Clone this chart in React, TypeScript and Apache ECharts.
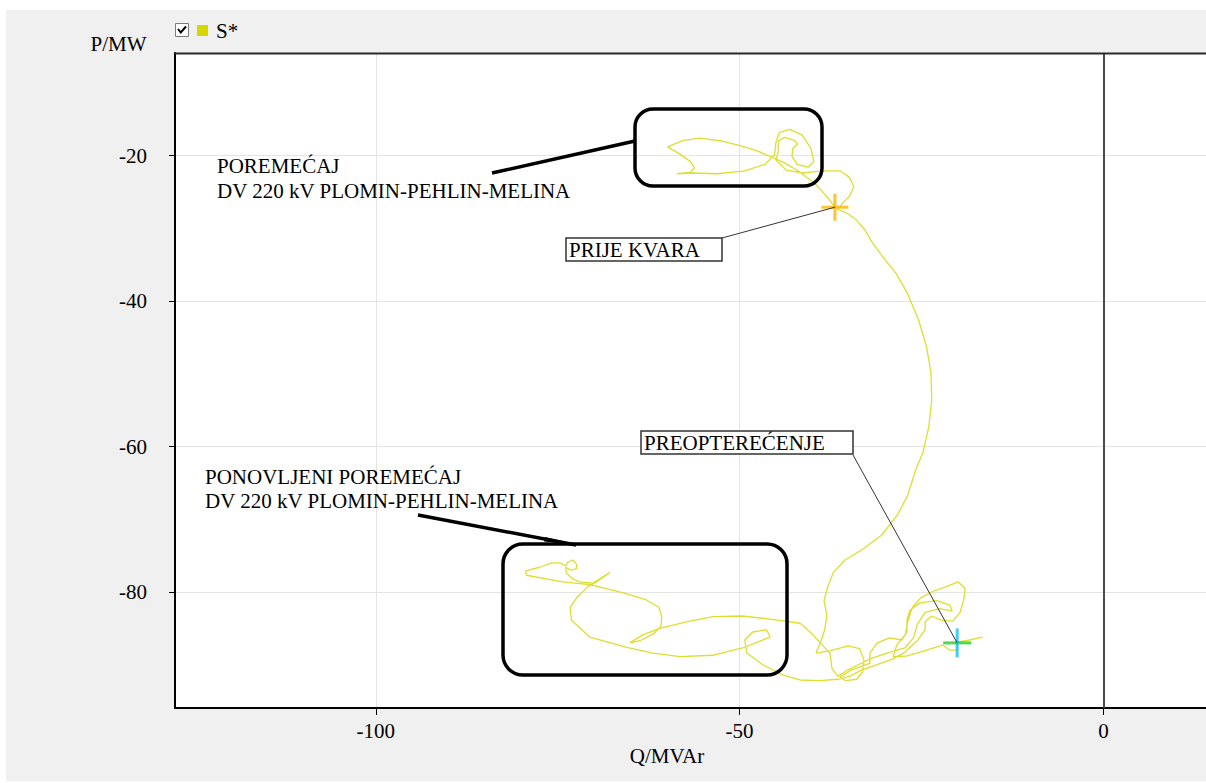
import { useEffect, useRef } from 'react';
import * as echarts from 'echarts';

const FONT = 'Liberation Serif';

// Axis layout values (Q in MVAr, P in MW)
const qTicks = [-100, -50, 0];
const pTicks = [-20, -40, -60, -80];
const qExtent = [-127.6, 14.1];
const pExtent = [-95.95, -5.9];

// Operating points that get a cross marker and a label
const prefaultPoint = [-36.9, -27.1];
const overloadPoint = [-20.1, -87.0];

// Trajectory of S* in the P-Q plane, in time order, split by phase
const swingFirst = [
  [-36.9, -27.1], [-38.2, -25.4], [-39.7, -23.8], [-41.7, -22.3], [-43.8, -21.0], [-45.6, -20.2],
  [-47.5, -19.4], [-49.7, -18.7], [-52.4, -18.0], [-55.5, -17.6], [-57.7, -17.9], [-59.9, -18.8],
  [-58.2, -19.8], [-56.8, -20.8], [-56.2, -21.7], [-56.8, -22.3], [-58.6, -22.5], [-56.6, -22.4],
  [-53.1, -22.5], [-49.3, -22.1], [-46.5, -21.2], [-45.2, -19.9], [-45.0, -18.1], [-44.5, -16.8],
  [-43.1, -16.4], [-41.4, -17.2], [-40.2, -19.0], [-39.8, -20.8], [-40.6, -21.6], [-42.1, -21.2],
  [-42.8, -20.1], [-42.7, -19.0], [-42.0, -18.4], [-42.5, -17.9], [-43.8, -17.5], [-44.7, -18.0],
  [-44.7, -19.5], [-45.0, -20.6], [-43.6, -22.0], [-41.3, -22.4], [-38.7, -22.1], [-36.2, -22.1],
  [-34.9, -23.0], [-34.3, -24.3], [-34.9, -25.6], [-35.8, -26.5], [-36.5, -27.4],
];

const descent = [
  [-35.1, -28.0], [-33.9, -28.9], [-32.8, -30.2], [-31.8, -31.9], [-30.5, -33.7], [-28.5, -36.2],
  [-27.0, -38.8], [-25.4, -42.6], [-24.3, -46.3], [-23.7, -49.9], [-23.6, -53.6], [-24.0, -57.3],
  [-24.8, -60.8], [-25.8, -63.2], [-26.9, -66.7], [-28.3, -69.4], [-30.5, -72.2], [-33.2, -74.2],
  [-35.5, -75.6], [-37.1, -77.3], [-37.9, -79.3], [-38.4, -81.2], [-38.0, -83.2], [-38.3, -85.2],
  [-38.8, -86.7], [-39.5, -88.4],
];

const settleRight = [
  [-37.6, -88.1], [-35.1, -87.4], [-33.5, -87.8], [-32.9, -89.4], [-33.1, -91.0], [-33.9, -92.0],
  [-35.4, -92.2], [-36.2, -91.7], [-34.6, -90.7], [-32.1, -89.8], [-32.1, -88.4], [-31.1, -87.0],
  [-29.4, -86.3], [-27.7, -86.6], [-27.0, -85.5], [-27.0, -83.9], [-26.6, -82.5], [-25.2, -81.5],
  [-22.9, -81.2], [-21.1, -81.8], [-20.8, -82.6], [-22.5, -82.3], [-24.5, -82.8], [-25.6, -84.5],
  [-26.1, -86.3], [-27.3, -87.7], [-29.4, -88.3], [-31.8, -89.1], [-33.5, -89.9], [-35.1, -90.7],
  [-36.5, -91.6], [-37.3, -90.5], [-37.6, -88.4], [-39.0, -86.9],
];

const swingSecond = [
  [-40.3, -85.5], [-41.7, -84.3], [-44.5, -83.9], [-49.6, -83.3], [-53.7, -83.4], [-57.3, -84.1],
  [-61.0, -85.0], [-63.3, -85.9], [-65.1, -87.0], [-63.7, -86.7], [-61.9, -85.8], [-60.8, -84.7],
  [-60.7, -83.4], [-61.1, -82.1], [-62.8, -81.1], [-66.1, -80.1], [-70.6, -79.0], [-74.3, -78.6],
  [-79.3, -77.7], [-79.4, -77.1], [-77.5, -76.6], [-75.8, -76.0], [-74.7, -76.0], [-73.9, -76.4],
  [-73.6, -75.9], [-72.9, -75.6], [-72.4, -76.2], [-72.4, -76.8], [-73.2, -77.0], [-73.9, -76.6],
  [-73.8, -77.4], [-73.1, -78.1], [-72.0, -78.6], [-70.2, -78.8], [-67.8, -77.3], [-69.5, -78.5],
  [-70.9, -79.3], [-72.4, -80.8], [-73.3, -82.1], [-73.1, -83.9], [-70.6, -86.2], [-65.5, -87.6],
  [-61.9, -88.4], [-58.2, -88.9], [-53.7, -88.7], [-49.6, -87.7], [-45.8, -86.2], [-46.3, -85.2],
  [-48.2, -85.5], [-49.3, -86.6], [-49.0, -88.4], [-46.8, -90.0], [-44.1, -91.4], [-41.7, -92.1],
  [-39.0, -92.2], [-36.5, -92.0], [-34.9, -91.6], [-33.2, -90.7],
];

const settleEnd = [
  [-31.1, -90.0], [-28.9, -89.2], [-27.3, -88.3], [-25.5, -86.6], [-24.5, -85.2], [-24.5, -84.1],
  [-23.6, -83.3], [-22.2, -83.9], [-20.7, -84.0], [-19.7, -82.8], [-19.2, -81.1], [-19.0, -79.5],
  [-20.0, -78.6], [-21.4, -79.2], [-23.4, -79.9], [-25.1, -80.8], [-26.3, -82.2], [-26.9, -84.1],
  [-27.2, -85.8], [-28.4, -87.3], [-28.9, -88.9], [-27.0, -88.8], [-24.3, -88.0], [-22.1, -87.3],
  [-21.1, -88.0], [-20.1, -88.0], [-20.1, -86.9], [-18.4, -86.6], [-16.6, -86.2],
];

const LINE_COLOR = '#dede30';
const LEGEND_COLOR = '#d6d600';

const textStyle = (text: string, align: string = 'left') => ({
  text,
  fontFamily: FONT,
  fontSize: 21,
  fill: '#000',
  align,
  verticalAlign: 'middle',
});

export default function App() {
  const ref = useRef<HTMLDivElement>(null);

  useEffect(() => {
    const el = ref.current;
    if (!el) return;
    const chart = echarts.init(el, undefined, { renderer: 'svg' });
    const trajectory = [...swingFirst, ...descent, ...settleRight, ...swingSecond, ...settleEnd];

    chart.setOption({
      animation: false,
      backgroundColor: '#f0f0f0',
      textStyle: { fontFamily: FONT },
      grid: {
        left: 175,
        right: 0,
        top: 53,
        bottom: 75,
        show: true,
        backgroundColor: '#ffffff',
        borderWidth: 0,
      },
      legend: {
        data: ['S*'],
        left: 197,
        top: 20,
        padding: 0,
        itemWidth: 11,
        itemHeight: 11,
        icon: 'rect',
        selectedMode: false,
        textStyle: { fontFamily: FONT, fontSize: 21, color: '#000', padding: [0, 0, 0, 3] },
      },
      xAxis: {
        type: 'value',
        min: qExtent[0],
        max: qExtent[1],
        axisLine: { show: true, onZero: false, lineStyle: { color: '#000', width: 2 } },
        axisTick: { show: true, customValues: qTicks, length: 7, lineStyle: { color: '#000', width: 1 } },
        axisLabel: { customValues: qTicks, fontFamily: FONT, fontSize: 21, color: '#000', margin: 12 },
        splitLine: { show: true, lineStyle: { color: '#e4e4e4', width: 1 } },
      },
      yAxis: {
        type: 'value',
        min: pExtent[0],
        max: pExtent[1],
        axisLine: { show: true, onZero: false, lineStyle: { color: '#000', width: 2 } },
        axisTick: { show: true, customValues: pTicks, length: 6, lineStyle: { color: '#000', width: 1 } },
        axisLabel: { customValues: pTicks, fontFamily: FONT, fontSize: 21, color: '#000', margin: 28 },
        splitLine: { show: true, lineStyle: { color: '#e4e4e4', width: 1 } },
      },
      series: [
        {
          name: 'S*',
          type: 'line',
          data: trajectory,
          symbol: 'none',
          showSymbol: false,
          lineStyle: { color: LINE_COLOR, width: 1.3 },
          itemStyle: { color: LEGEND_COLOR },
          z: 3,
          markLine: {
            silent: true,
            symbol: 'none',
            label: { show: false },
            lineStyle: { color: '#4a4a4a', width: 2, type: 'solid' },
            data: [{ xAxis: 0 }],
          },
        },
        {
          name: 'prefault-h',
          type: 'scatter',
          data: [prefaultPoint],
          symbol: 'rect',
          symbolSize: [27, 3],
          itemStyle: { color: '#ffb400' },
          silent: true,
          z: 4,
        },
        {
          name: 'prefault-v',
          type: 'scatter',
          data: [prefaultPoint],
          symbol: 'rect',
          symbolSize: [3, 27],
          itemStyle: { color: '#ffb400' },
          silent: true,
          z: 4,
        },
        {
          name: 'overload-h',
          type: 'scatter',
          data: [overloadPoint],
          symbol: 'rect',
          symbolSize: [28, 3],
          itemStyle: { color: '#22d022' },
          silent: true,
          z: 4,
        },
        {
          name: 'overload-v',
          type: 'scatter',
          data: [overloadPoint],
          symbol: 'rect',
          symbolSize: [3, 29],
          itemStyle: { color: '#10c0f4' },
          silent: true,
          z: 5,
        },
      ],
    });

    const a = chart.convertToPixel({ gridIndex: 0 }, prefaultPoint) as number[];
    const b = chart.convertToPixel({ gridIndex: 0 }, overloadPoint) as number[];

    chart.setOption({
      graphic: {
        elements: [
          // page margins
          { type: 'rect', z: 50, silent: true, shape: { x: 0, y: 0, width: 1206, height: 10 }, style: { fill: '#fff' } },
          { type: 'rect', z: 50, silent: true, shape: { x: 0, y: 0, width: 6, height: 783 }, style: { fill: '#fff' } },
          { type: 'rect', z: 50, silent: true, shape: { x: 0, y: 781, width: 1206, height: 2 }, style: { fill: '#fff' } },
          // top frame edge of the plot
          { type: 'line', z: 50, silent: true, shape: { x1: 175, y1: 53.5, x2: 1206, y2: 53.5 }, style: { stroke: '#2a2a2a', lineWidth: 2 } },
          // legend checkbox
          { type: 'rect', z: 50, silent: true, shape: { x: 175.5, y: 23.5, width: 13, height: 13 }, style: { fill: '#fff', stroke: '#7a7a7a', lineWidth: 1 } },
          { type: 'polyline', z: 51, silent: true, shape: { points: [[178, 29], [180.8, 32.5], [186, 26.5]] }, style: { stroke: '#000', lineWidth: 2, fill: 'none' } },
          // axis names
          { type: 'text', z: 50, silent: true, x: 118.5, y: 44, style: textStyle('P/MW', 'center') },
          { type: 'text', z: 50, silent: true, x: 667, y: 756, style: textStyle('Q/MVAr', 'center') },
          // first disturbance
          { type: 'text', z: 50, silent: true, x: 217, y: 166, style: textStyle('POREMEĆAJ') },
          { type: 'text', z: 50, silent: true, x: 217, y: 191, style: textStyle('DV 220 kV PLOMIN-PEHLIN-MELINA') },
          { type: 'line', z: 50, silent: true, shape: { x1: 492, y1: 173, x2: 635, y2: 141 }, style: { stroke: '#000', lineWidth: 3.5 } },
          { type: 'rect', z: 50, silent: true, shape: { x: 635, y: 109, width: 187, height: 77, r: 18 }, style: { fill: 'none', stroke: '#000', lineWidth: 3.5 } },
          // repeated disturbance
          { type: 'text', z: 50, silent: true, x: 205, y: 477, style: textStyle('PONOVLJENI POREMEĆAJ') },
          { type: 'text', z: 50, silent: true, x: 205, y: 501, style: textStyle('DV 220 kV PLOMIN-PEHLIN-MELINA') },
          { type: 'line', z: 50, silent: true, shape: { x1: 418, y1: 515, x2: 576, y2: 545 }, style: { stroke: '#000', lineWidth: 3.5 } },
          { type: 'polygon', z: 50, silent: true, shape: { points: [[545, 537], [578, 544.5], [544, 541.5]] }, style: { fill: '#000' } },
          { type: 'rect', z: 50, silent: true, shape: { x: 503, y: 544, width: 284, height: 131, r: 20 }, style: { fill: 'none', stroke: '#000', lineWidth: 3.5 } },
          // pre-fault label
          { type: 'line', z: 50, silent: true, shape: { x1: 722, y1: 238, x2: a[0], y2: a[1] }, style: { stroke: '#333', lineWidth: 1 } },
          { type: 'rect', z: 50, silent: true, shape: { x: 566, y: 238, width: 156, height: 23 }, style: { fill: '#fff', stroke: '#333', lineWidth: 1.5 } },
          { type: 'text', z: 51, silent: true, x: 569, y: 249.5, style: textStyle('PRIJE KVARA') },
          // overload label
          { type: 'line', z: 50, silent: true, shape: { x1: 853, y1: 455, x2: b[0], y2: b[1] }, style: { stroke: '#333', lineWidth: 1 } },
          { type: 'rect', z: 50, silent: true, shape: { x: 641, y: 431, width: 212, height: 23 }, style: { fill: '#fff', stroke: '#333', lineWidth: 1.5 } },
          { type: 'text', z: 51, silent: true, x: 644, y: 442.5, style: textStyle('PREOPTEREĆENJE') },
        ],
      },
    });

    return () => {
      chart.dispose();
    };
  }, []);

  return (
    <div
      ref={ref}
      style={{ position: 'fixed', left: 0, top: 0, width: 1206, height: 783 }}
    />
  );
}
